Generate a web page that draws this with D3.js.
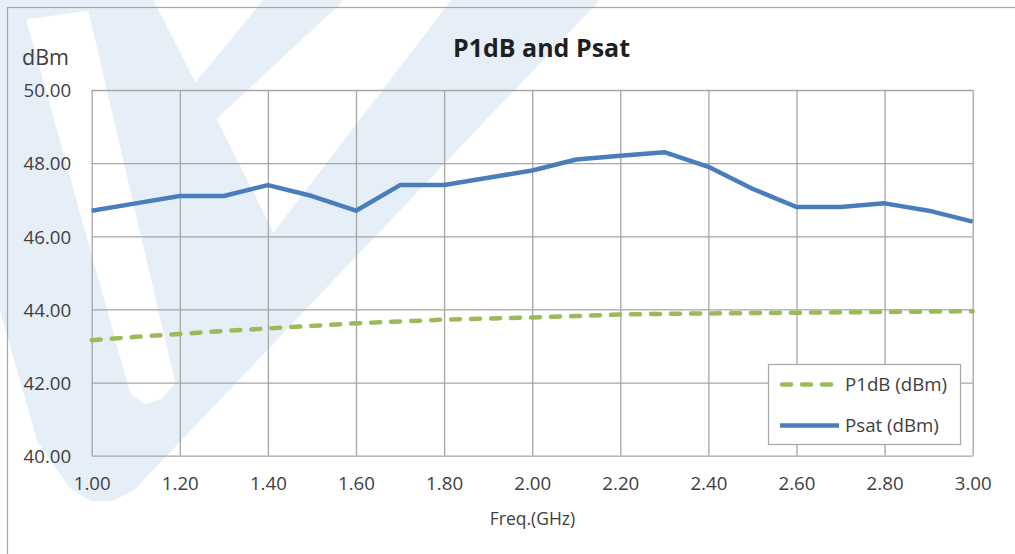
<!DOCTYPE html>
<html>
<head>
<meta charset="utf-8">
<script src="https://cdn.jsdelivr.net/npm/d3@7"></script>
<style>
body{margin:0;background:#fff;}
.chart text{font-family:"Open Sans",sans-serif;fill:#404040;}
.grid line{stroke:#a6a6a6;stroke-width:1.3;}
.grid .domain{display:none;}
</style>
</head>
<body>
<div id="chart"></div>
<script>
// frequency points (GHz)
var freq=[1.0,1.1,1.2,1.3,1.4,1.5,1.6,1.7,1.8,1.9,2.0,2.1,2.2,2.3,2.4,2.5,2.6,2.7,2.8,2.9,3.0];
var psat=[46.7,46.9,47.1,47.1,47.4,47.1,46.7,47.4,47.4,47.6,47.8,48.1,48.2,48.3,47.9,47.3,46.8,46.8,46.9,46.7,46.4];
var p1db=[43.16,43.25,43.33,43.41,43.48,43.55,43.62,43.67,43.72,43.75,43.78,43.82,43.86,43.88,43.89,43.90,43.91,43.92,43.93,43.94,43.95];
var xTicks=[1.0,1.2,1.4,1.6,1.8,2.0,2.2,2.4,2.6,2.8,3.0];
var yTicks=[40,42,44,46,48,50];
var seriesNames=["P1dB (dBm)","Psat (dBm)"];

var wide=1015;
var high=554;
var svg=d3
  .select("#chart")
  .append("svg")
  .attr("width",wide)
  .attr("height",high)
  .attr("class","chart");

// faint logo watermark behind the chart
var wm=svg.append("g").attr("class","watermark");
wm.append("polygon")
  .attr("points","0,0 150,0 195,88 267,0 340,0 213,118 273,238 455,0 596,0 132,488 112,498 92,498 72,486 40,440 0,300")
  .style("fill","#e6eff8")
  .style("stroke","#e6eff8")
  .style("stroke-width",6)
  .style("stroke-linejoin","round");
wm.append("polygon")
  .attr("points","30,22 86,14 172,382 160,396 146,401 133,392")
  .style("fill","#ffffff")
  .style("stroke","#ffffff")
  .style("stroke-width",6)
  .style("stroke-linejoin","round");

// outer chart border
svg.append("rect")
  .attr("x",7.5)
  .attr("y",7.5)
  .attr("width",wide)
  .attr("height",high)
  .style("fill","none")
  .style("stroke","#a6a6a6")
  .style("stroke-width",1.2);

var xscale=d3.scaleLinear().domain([1,3]).range([91.7,972.7]);
var yscale=d3.scaleLinear().domain([40,50]).range([455.7,90]);

var xaxis=d3.axisBottom(xscale)
  .tickValues(xTicks)
  .tickSize(-(yscale(40)-yscale(50)))
  .tickPadding(21)
  .tickFormat(d3.format(".2f"));
var yaxis=d3.axisLeft(yscale)
  .tickValues(yTicks)
  .tickSize(-(xscale(3)-xscale(1)))
  .tickPadding(20.5)
  .tickFormat(d3.format(".2f"));

svg.append("g")
  .attr("class","grid xAxis")
  .attr("transform","translate(0,"+yscale(40)+")")
  .call(xaxis);
svg.append("g")
  .attr("class","grid yAxis")
  .attr("transform","translate("+xscale(1)+",0)")
  .call(yaxis);
svg.selectAll(".grid text")
  .style("font-size","18.7px")
  .style("font-family","'Open Sans',sans-serif")
  .style("fill","#404040");
svg.selectAll(".yAxis text").attr("dy","0.36em");

var line=function(vals){
  return d3.line()
    .x(function(d,i){return xscale(freq[i]);})
    .y(function(d){return yscale(d);})(vals);
};

svg.append("path")
  .attr("d",line(p1db))
  .style("fill","none")
  .style("stroke","#9bbb59")
  .style("stroke-width",4.5)
  .style("stroke-linecap","round")
  .style("stroke-dasharray","9,11");
svg.append("path")
  .attr("d",line(psat))
  .style("fill","none")
  .style("stroke","#4a7ebb")
  .style("stroke-width",4.5)
  .style("stroke-linejoin","round");

// title and axis labels
svg.append("text")
  .attr("x",541.5)
  .attr("y",57)
  .attr("text-anchor","middle")
  .style("font-size","25px")
  .style("font-weight","bold")
  .style("fill","#1f1f1f")
  .text("P1dB and Psat");
svg.append("text")
  .attr("x",22)
  .attr("y",65)
  .style("font-size","21.5px")
  .text("dBm");
svg.append("text")
  .attr("x",532.5)
  .attr("y",525)
  .attr("text-anchor","middle")
  .style("font-size","17.5px")
  .text("Freq.(GHz)");

// legend
var legend=svg.append("g").attr("class","legend");
legend.append("rect")
  .attr("x",768.5)
  .attr("y",364.5)
  .attr("width",192)
  .attr("height",80)
  .style("fill","#fff")
  .style("stroke","#a6a6a6")
  .style("stroke-width",1.2);
legend.append("line")
  .attr("x1",782).attr("x2",833)
  .attr("y1",384.5).attr("y2",384.5)
  .style("stroke","#9bbb59")
  .style("stroke-width",4.5)
  .style("stroke-linecap","round")
  .style("stroke-dasharray","9,11");
legend.append("line")
  .attr("x1",780).attr("x2",839)
  .attr("y1",425.5).attr("y2",425.5)
  .style("stroke","#4a7ebb")
  .style("stroke-width",4.5);
legend.selectAll("text.lg")
  .data(seriesNames)
  .enter()
  .append("text")
  .attr("class","lg")
  .attr("x",845)
  .attr("y",function(d,i){return 391+i*41;})
  .style("font-size","18.7px")
  .text(function(d){return d;});
</script>
</body>
</html>
